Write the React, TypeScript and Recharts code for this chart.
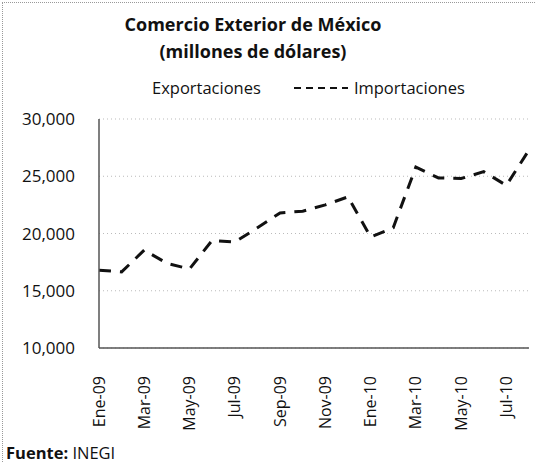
import React from "react";
import { LineChart, Line, XAxis, YAxis, CartesianGrid } from "recharts";

const months = [
  "Ene-09", "Feb-09", "Mar-09", "Abr-09", "May-09", "Jun-09", "Jul-09", "Ago-09", "Sep-09", "Oct-09",
  "Nov-09", "Dic-09", "Ene-10", "Feb-10", "Mar-10", "Abr-10", "May-10", "Jun-10", "Jul-10", "Ago-10",
];
const importaciones = [
  16800, 16650, 18550, 17400, 16900, 19400, 19250, 20500, 21800, 21950,
  22500, 23200, 19700, 20500, 25800, 24850, 24800, 25400, 24200, 27300,
];
const yTicks = [10000, 15000, 20000, 25000, 30000];

const data = months.map((m, i) => ({ month: m, importaciones: importaciones[i] }));

const FONT = "'Open Sans', 'Noto Sans', sans-serif";

const XTick = (props: any) => {
  const { x, y, payload } = props;
  return (
    <g transform={`translate(${x},${y + 20})`}>
      <text
        transform="rotate(-90)"
        textAnchor="end"
        dy="0.35em"
        fontSize={16}
        fontFamily={FONT}
        fill="#111"
      >
        {payload.value}
      </text>
    </g>
  );
};

export default function App() {
  return (
    <div
      style={{
        position: "absolute",
        left: 0,
        top: 0,
        width: 536,
        height: 463,
        background: "#fff",
        fontFamily: FONT,
      }}
    >
      <div
        style={{
          position: "absolute",
          left: 2,
          top: 2,
          width: 532,
          height: 459,
          borderLeft: "1px dotted #999",
          borderTop: "1px dotted #999",
        }}
      />
      <div
        style={{
          position: "absolute",
          left: 0,
          top: 11,
          width: 506,
          textAlign: "center",
          fontWeight: 700,
          fontSize: 18,
          lineHeight: "27px",
          color: "#111",
        }}
      >
        Comercio Exterior de México
        <br />
        (millones de dólares)
      </div>
      <div
        style={{
          position: "absolute",
          left: 152,
          top: 77,
          display: "flex",
          alignItems: "center",
          fontSize: 16.5,
          lineHeight: "22px",
          color: "#111",
          whiteSpace: "nowrap",
        }}
      >
        <span>Exportaciones</span>
        <svg width={56} height={10} style={{ marginLeft: 32, marginRight: 5 }}>
          <line x1={1} y1={5} x2={55} y2={5} stroke="#111" strokeWidth={2} strokeDasharray="7 5" />
        </svg>
        <span>Importaciones</span>
      </div>
      <div style={{ position: "absolute", left: 0, top: 0 }}>
        <LineChart
          width={536}
          height={463}
          data={data}
          margin={{ top: 119, right: 7, left: 0, bottom: 0 }}
        >
          <CartesianGrid vertical={false} stroke="#bbb" strokeDasharray="1 3" />
          <XAxis
            dataKey="month"
            interval={1}
            height={115}
            tick={<XTick />}
            tickLine={false}
            axisLine={{ stroke: "#555", strokeWidth: 1.5 }}
          />
          <YAxis
            domain={[10000, 30000]}
            ticks={yTicks}
            width={99}
            tickLine={false}
            axisLine={{ stroke: "#555", strokeWidth: 1.5 }}
            tickMargin={18}
            tick={{ fontSize: 17, fontFamily: FONT, fill: "#111" }}
            tickFormatter={(v: number) => v.toLocaleString("en-US")}
          />
          <Line
            type="linear"
            dataKey="importaciones"
            name="Importaciones"
            stroke="#111"
            strokeWidth={3}
            strokeDasharray="12 9"
            dot={false}
            isAnimationActive={false}
          />
        </LineChart>
      </div>
      <div
        style={{
          position: "absolute",
          left: 6,
          top: 441,
          fontSize: 16.5,
          color: "#111",
        }}
      >
        <b>Fuente:</b> INEGI
      </div>
    </div>
  );
}
